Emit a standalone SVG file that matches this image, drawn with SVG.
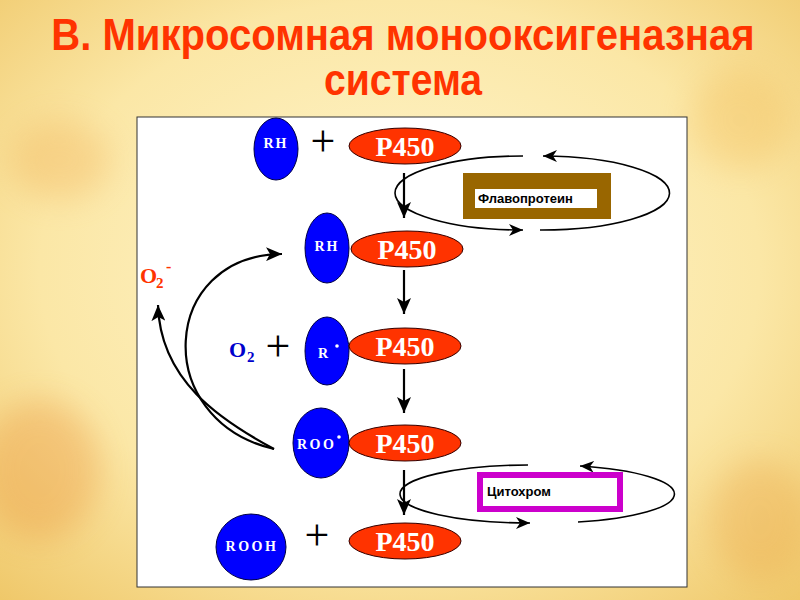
<svg xmlns="http://www.w3.org/2000/svg" width="800" height="600" viewBox="0 0 800 600">
<defs>
<radialGradient id="bg" cx="0.5" cy="0.45" r="0.75">
<stop offset="0" stop-color="#fff6cf"/>
<stop offset="0.6" stop-color="#fbe7a6"/>
<stop offset="1" stop-color="#efc768"/>
</radialGradient>
<filter id="blur" x="-50%" y="-50%" width="200%" height="200%"><feGaussianBlur stdDeviation="16"/></filter>
<marker id="ah" markerUnits="userSpaceOnUse" markerWidth="16" markerHeight="12" refX="14" refY="6" orient="auto">
<path d="M0,0 L14,6 L0,12 L4,6 z" fill="#000"/>
</marker>
<marker id="av" markerUnits="userSpaceOnUse" markerWidth="18" markerHeight="14" refX="16" refY="7" orient="auto">
<path d="M0,0 L16,7 L0,14 L4,7 z" fill="#000"/>
</marker>
<style>
.title{font-family:"Liberation Sans",Arial,sans-serif;font-weight:bold;fill:#ff3300;font-size:44px;text-anchor:middle}
.blue{fill:#0000ff;stroke:#000044;stroke-width:1}
.red{fill:#ff3300;stroke:#330000;stroke-width:1}
.p450{font-family:"Liberation Serif","Times New Roman",serif;font-weight:bold;fill:#fff;font-size:28px;text-anchor:middle}
.sub{font-family:"Liberation Serif","Times New Roman",serif;font-weight:bold;fill:#fff;font-size:14px}
.plus{font-family:"Liberation Serif","Times New Roman",serif;fill:#000;font-size:44px;text-anchor:middle}
.conn{fill:none;stroke:#000;stroke-width:2.2}
.loop{fill:none;stroke:#000;stroke-width:1.6}
.lbl{font-family:"Liberation Sans",Arial,sans-serif;font-weight:bold;font-size:13px;fill:#000}
.ox{font-family:"Liberation Serif","Times New Roman",serif;font-weight:bold}
</style>
</defs>
<rect width="800" height="600" fill="url(#bg)"/>
<g filter="url(#blur)" opacity="0.3">
<ellipse cx="40" cy="470" rx="60" ry="70" fill="#e8862a"/>
<ellipse cx="60" cy="160" rx="50" ry="40" fill="#f0a84a"/>
<ellipse cx="760" cy="520" rx="50" ry="60" fill="#eaa040"/>
<ellipse cx="740" cy="120" rx="50" ry="50" fill="#f2b850"/>
</g>
<text class="title" transform="translate(403,50) scale(0.86,1)" x="0" y="0" textLength="818" lengthAdjust="spacingAndGlyphs">В. Микросомная монооксигеназная</text>
<text class="title" transform="translate(403,95) scale(0.86,1)" x="0" y="0" textLength="184" lengthAdjust="spacingAndGlyphs">система</text>
<rect x="137" y="117" width="550" height="470" fill="#fff" stroke="#333" stroke-width="1"/>
<g id="connectors">
<line class="conn" x1="404" y1="173" x2="404" y2="218" marker-end="url(#av)"/>
<line class="conn" x1="404" y1="270" x2="404" y2="314" marker-end="url(#av)"/>
<line class="conn" x1="404" y1="369" x2="404" y2="413" marker-end="url(#av)"/>
<line class="conn" x1="404" y1="470" x2="404" y2="515" marker-end="url(#av)"/>
<path class="loop" d="M540,230 A128,37 0 0 0 543,156" marker-end="url(#ah)"/>
<path class="loop" d="M523,156 A128,37 0 0 0 523,230" marker-end="url(#ah)"/>
<path class="loop" d="M578,522 A129,29 0 0 0 580,466" marker-end="url(#ah)"/>
<path class="loop" d="M528,465 A129,29 0 0 0 530,523" marker-end="url(#ah)"/>
<path class="conn" d="M274,449 C150,420 160,255 282,254" marker-end="url(#av)"/>
<path class="conn" d="M274,449 C220,420 160,380 158,305" marker-end="url(#av)"/>
</g>
<g id="rh1">
<ellipse class="blue" cx="276" cy="149" rx="22" ry="31"/>
<text class="sub" x="276" y="148" text-anchor="middle" letter-spacing="2">RH</text>
</g>
<text class="plus" x="323" y="156">+</text>
<g id="p450-1">
<ellipse class="red" cx="405" cy="146" rx="56" ry="18"/>
<text class="p450" x="405" y="156">P450</text>
</g>
<g id="flavoprotein">
<rect x="463" y="173" width="148" height="46" fill="#996600"/>
<rect x="475" y="189" width="122" height="19" fill="#fff"/>
<text class="lbl" x="478" y="203">Флавопротеин</text>
</g>
<g id="rh2">
<ellipse class="blue" cx="327" cy="248" rx="22" ry="35"/>
<text class="sub" x="327" y="251" text-anchor="middle" letter-spacing="2">RH</text>
</g>
<g id="p450-2">
<ellipse class="red" cx="407" cy="249" rx="56" ry="18"/>
<text class="p450" x="407" y="259">P450</text>
</g>
<g id="o2minus">
<text class="ox" x="140" y="283" font-size="22" fill="#ff3300">O</text>
<text class="ox" x="156" y="288" font-size="15" fill="#ff3300">2</text>
<text class="ox" x="166" y="272" font-size="16" fill="#ff3300">-</text>
</g>
<g id="o2">
<text class="ox" x="229" y="357" font-size="22" fill="#0000cc">O</text>
<text class="ox" x="247" y="362" font-size="15" fill="#0000cc">2</text>
</g>
<text class="plus" x="278" y="361">+</text>
<g id="r-radical">
<ellipse class="blue" cx="327" cy="351" rx="22" ry="34"/>
<text class="sub" x="318" y="358">R</text>
<circle cx="337" cy="346" r="1.8" fill="#fff"/>
</g>
<g id="p450-3">
<ellipse class="red" cx="405" cy="346" rx="56" ry="18"/>
<text class="p450" x="405" y="356">P450</text>
</g>
<g id="roo">
<ellipse class="blue" cx="321" cy="443" rx="28" ry="35"/>
<text class="sub" x="297" y="449" letter-spacing="2.5">ROO</text>
<circle cx="339" cy="437" r="1.8" fill="#fff"/>
</g>
<g id="p450-4">
<ellipse class="red" cx="405" cy="443" rx="56" ry="18"/>
<text class="p450" x="405" y="453">P450</text>
</g>
<g id="cytochrome">
<rect x="480" y="475" width="140" height="34" fill="#fff" stroke="#cc00cc" stroke-width="6"/>
<text class="lbl" x="487" y="496">Цитохром</text>
</g>
<g id="rooh">
<ellipse class="blue" cx="251" cy="547" rx="35" ry="33"/>
<text class="sub" x="252" y="551" text-anchor="middle" letter-spacing="2.5">ROOH</text>
</g>
<text class="plus" x="317" y="550">+</text>
<g id="p450-5">
<ellipse class="red" cx="405" cy="541" rx="56" ry="18"/>
<text class="p450" x="405" y="551">P450</text>
</g>
</svg>
